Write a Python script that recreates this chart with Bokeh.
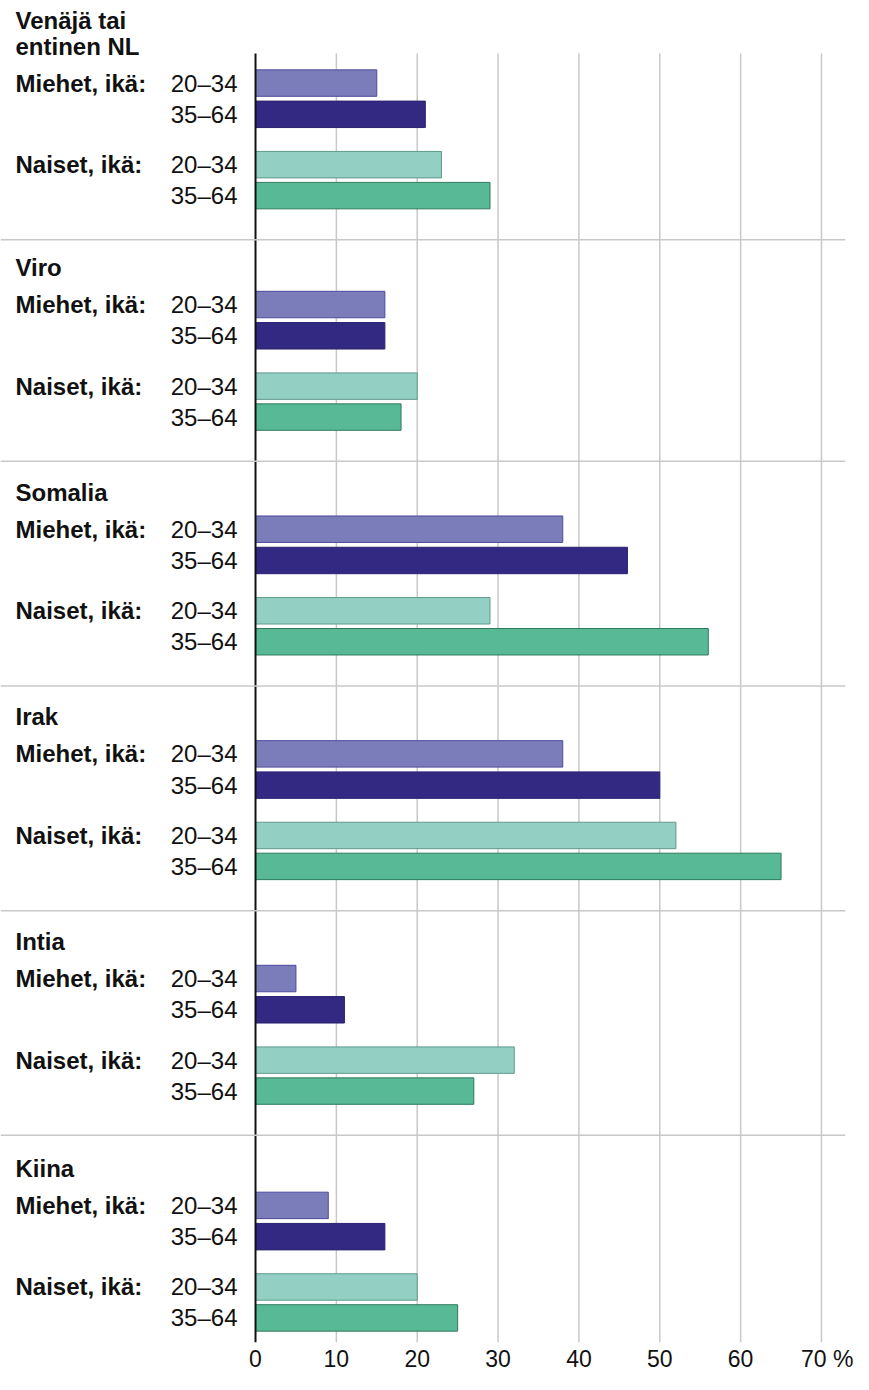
from bokeh.plotting import figure
from bokeh.models import Range1d, FixedTicker, Span, ColumnDataSource
from bokeh.embed import file_html
from bokeh.resources import INLINE
from bokeh.core.properties import value

# ---------------- data ----------------
countries = ["Venäjä tai\nentinen NL", "Viro", "Somalia", "Irak", "Intia", "Kiina"]
men_20_34 = [15, 16, 38, 38, 5, 9]
men_35_64 = [21, 16, 46, 50, 11, 16]
women_20_34 = [23, 20, 29, 52, 32, 20]
women_35_64 = [29, 18, 56, 65, 27, 25]
age_labels = ["20–34", "35–64"]
sex_labels = ["Miehet, ikä:", "Naiset, ikä:"]
x_ticks = [0, 10, 20, 30, 40, 50, 60, 70]
unit_label = "%"

# ---------------- layout ----------------
GROUP_TOP = [85.7, 307.5, 532.5, 757.5, 982.5, 1209.7]
ROW_OFFS = [0.0, 31.3, 81.7, 112.7]
BAR_H = 26.5
HEADER_OFF = -37.0
HEADER_LINE = 25.5
SEP_OFF = 157.0
W, H = 853, 1374
BORDER_B = 30
SHIFT = 3
Y_TOP, Y_BOTTOM = SHIFT, H - BORDER_B + SHIFT
AXIS_TOP = 56
FONT = "Liberation Sans"

series = [men_20_34, men_35_64, women_20_34, women_35_64]
fills = ["#7b7dbb", "#332982", "#93cfc3", "#58b997"]
lines = ["#4c4a9c", "#2a2270", "#5f9a8a", "#2f7a5d"]

p = figure(width=W, height=H,
           x_range=Range1d(-31.54, 72.97), y_range=Range1d(Y_BOTTOM, Y_TOP),
           output_backend="svg", toolbar_location=None, y_axis_location=None,
           min_border_left=0, min_border_right=8, min_border_top=0, min_border_bottom=BORDER_B)
p.outline_line_color = None
p.xgrid.visible = False
p.ygrid.visible = False

# grid lines
gx = [t for t in x_ticks if t != 0]
p.segment(x0=gx, x1=gx, y0=[AXIS_TOP] * len(gx), y1=[Y_BOTTOM] * len(gx),
          line_color="#c8c8c8", line_width=1.5)

# separators
for g in GROUP_TOP[:-1]:
    p.add_layout(Span(location=g + SEP_OFF, dimension="width",
                      line_color="#c8c8c8", line_width=1.5))

# bars
for k, vals in enumerate(series):
    ys = [g + ROW_OFFS[k] for g in GROUP_TOP]
    src = ColumnDataSource(dict(y=ys, right=vals))
    p.hbar(y="y", left=0, right="right", height=BAR_H, source=src,
           fill_color=fills[k], line_color=lines[k], line_width=1)

# axis line at zero
p.segment(x0=[0], x1=[0], y0=[AXIS_TOP], y1=[Y_BOTTOM], line_color="#111111", line_width=2)

x_left = p.x_range.start

# headers
hx, hy, ht = [], [], []
for g, name in zip(GROUP_TOP, countries):
    parts = name.split("\n")
    n = len(parts)
    for i, part in enumerate(parts):
        hx.append(x_left)
        hy.append(g + HEADER_OFF - (n - 1 - i) * HEADER_LINE)
        ht.append(part)
p.text(x=hx, y=hy, text=ht, x_offset=15, text_align="left", text_baseline="middle",
       text_font=value(FONT), text_font_style="bold", text_font_size="24px", text_color="#111111")

# sex labels
sx, sy, st = [], [], []
for g in GROUP_TOP:
    for j, lab in enumerate(sex_labels):
        sx.append(x_left)
        sy.append(g + ROW_OFFS[2 * j])
        st.append(lab)
p.text(x=sx, y=sy, text=st, x_offset=15, text_align="left", text_baseline="middle",
       text_font=value(FONT), text_font_style="bold", text_font_size="24px", text_color="#111111")

# age labels
ax, ay, at = [], [], []
for g in GROUP_TOP:
    for k in range(4):
        ax.append(0)
        ay.append(g + ROW_OFFS[k])
        at.append(age_labels[k % 2])
p.text(x=ax, y=ay, text=at, x_offset=-18, text_align="right", text_baseline="middle",
       text_font=value(FONT), text_font_size="24px", text_color="#111111")

# x axis
xa = p.xaxis[0]
xa.ticker = FixedTicker(ticks=x_ticks)
xa.axis_line_color = None
xa.major_tick_line_color = None
xa.major_tick_in = 0
xa.major_tick_out = 0
xa.minor_tick_line_color = None
xa.minor_tick_in = 0
xa.minor_tick_out = 0
xa.major_label_standoff = 3
xa.major_label_text_font = FONT
xa.major_label_text_font_size = "23px"
xa.major_label_text_line_height = 0.9
xa.major_label_text_color = "#111111"
xa.major_label_overrides = {x_ticks[-1]: "\u200b" + "\u00a0" * 2 + str(x_ticks[-1]) + " " + unit_label}

open("out.html", "w").write(file_html(p, INLINE))
